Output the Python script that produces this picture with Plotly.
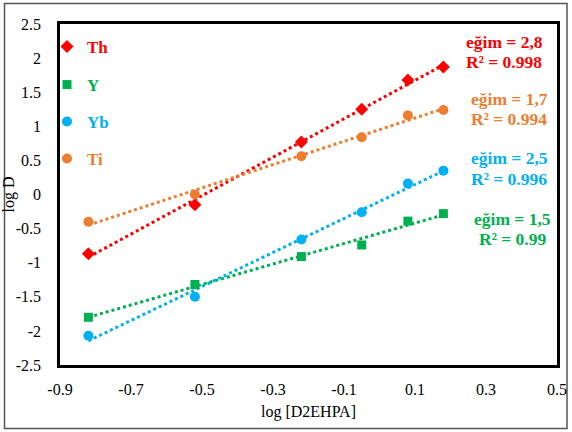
import numpy as np
import plotly.graph_objects as go

# Data
log_d2ehpa = [-0.82, -0.52, -0.22, -0.05, 0.08, 0.18]
th = [-0.87, -0.15, 0.77, 1.25, 1.68, 1.87]
y_el = [-1.80, -1.32, -0.91, -0.74, -0.39, -0.28]
yb = [-2.07, -1.50, -0.66, -0.26, 0.16, 0.35]
ti = [-0.40, 0.00, 0.56, 0.84, 1.16, 1.24]

names = ["Th", "Y", "Yb", "Ti"]
series = [th, y_el, yb, ti]
colors = ["#FF0000", "#00B050", "#00B0F0", "#ED7D31"]
symbols = ["diamond", "square", "circle", "circle"]
sizes = [10, 9, 10, 10]
slope_labels = ["eğim = 2,8", "eğim = 1,5", "eğim = 2,5", "eğim = 1,7"]
r2_labels = ["R² = 0.998", "R² = 0.99", "R² = 0.996", "R² = 0.994"]

# layout geometry (pixels)
W, H = 572, 432
L, R, T, B = 60, 15, 24, 67
pw, ph = W - L - R, H - T - B

def px_x(p):
    return (p - L) / pw

def px_y(p):
    return (H - B - p) / ph

serif = "Liberation Serif"

fig = go.Figure()

x = np.array(log_d2ehpa)
for i, (nm, s) in enumerate(zip(names, series)):
    k, b0 = np.polyfit(x, np.array(s), 1)
    xs = [x[0], x[-1]]
    fig.add_trace(go.Scatter(x=xs, y=[k * v + b0 for v in xs], mode="lines",
                             line=dict(color=colors[i], width=3, dash="dot"),
                             showlegend=False, hoverinfo="skip"))

legend_y_px = [47, 85, 122, 159]
legend_ids = ["legend", "legend2", "legend3", "legend4"]
for i, (nm, s) in enumerate(zip(names, series)):
    fig.add_trace(go.Scatter(x=log_d2ehpa, y=s, mode="markers", name=nm,
                             marker=dict(color=colors[i], symbol=symbols[i], size=sizes[i],
                                         line=dict(width=0)),
                             legend=legend_ids[i]))

legend_cfg = {}
for i, lid in enumerate(legend_ids):
    # legend marker center ~20px from legend left edge, text ~40px
    legend_cfg[lid] = dict(x=px_x(67 - 20), y=px_y(legend_y_px[i]), xanchor="left", yanchor="middle",
                           bgcolor="rgba(0,0,0,0)", borderwidth=0,
                           font=dict(family=serif, size=17, color=colors[i], weight="bold"),
                           itemwidth=30, tracegroupgap=0)

# slope / R2 annotations
annotations = []
ann_pos = [(504, 42, 62), (512, 219, 239), (509, 158, 179), (509, 99, 119)]
for i in range(4):
    cx, y1, y2 = ann_pos[i]
    for txt, yy in ((slope_labels[i], y1), (r2_labels[i], y2)):
        annotations.append(dict(x=px_x(cx), y=px_y(yy), xref="paper", yref="paper",
                                text=txt, showarrow=False, xanchor="center", yanchor="middle",
                                font=dict(family=serif, size=17.5, color=colors[i], weight="bold")))

fig.update_layout(
    width=W, height=H,
    margin=dict(l=L, r=R, t=T, b=B, autoexpand=False),
    paper_bgcolor="white", plot_bgcolor="white",
    annotations=annotations,
    shapes=[dict(type="rect", xref="paper", yref="paper",
                 x0=px_x(4.5), x1=px_x(567), y0=px_y(428.5), y1=px_y(3.5),
                 line=dict(color="#555555", width=1.5), fillcolor="rgba(0,0,0,0)", layer="below")],
    **legend_cfg,
)

fig.update_xaxes(range=[-0.9, 0.5], tickvals=[-0.9, -0.7, -0.5, -0.3, -0.1, 0.1, 0.3, 0.5],
                 ticktext=["-0.9", "-0.7", "-0.5", "-0.3", "-0.1", "0.1", "0.3", "0.5"],
                 showgrid=False, zeroline=False, showline=True, linecolor="black", linewidth=2.5,
                 mirror=True, ticks="", ticklabelstandoff=8, automargin=False,
                 tickfont=dict(family=serif, size=16, color="black"),
                 title=dict(text="log [D2EHPA]", font=dict(family=serif, size=16, color="black"),
                            standoff=9))
fig.update_yaxes(range=[-2.5, 2.5], tickvals=[-2.5, -2, -1.5, -1, -0.5, 0, 0.5, 1, 1.5, 2, 2.5],
                 ticktext=["-2.5", "-2", "-1.5", "-1", "-0.5", "0", "0.5", "1", "1.5", "2", "2.5"],
                 showgrid=False, zeroline=False, showline=True, linecolor="black", linewidth=2.5,
                 mirror=True, ticks="", ticklabelstandoff=13, automargin=False,
                 tickfont=dict(family=serif, size=16, color="black"),
                 title=dict(text="log D", font=dict(family=serif, size=16, color="black"),
                            standoff=4))

fig.write_html("out.html")
